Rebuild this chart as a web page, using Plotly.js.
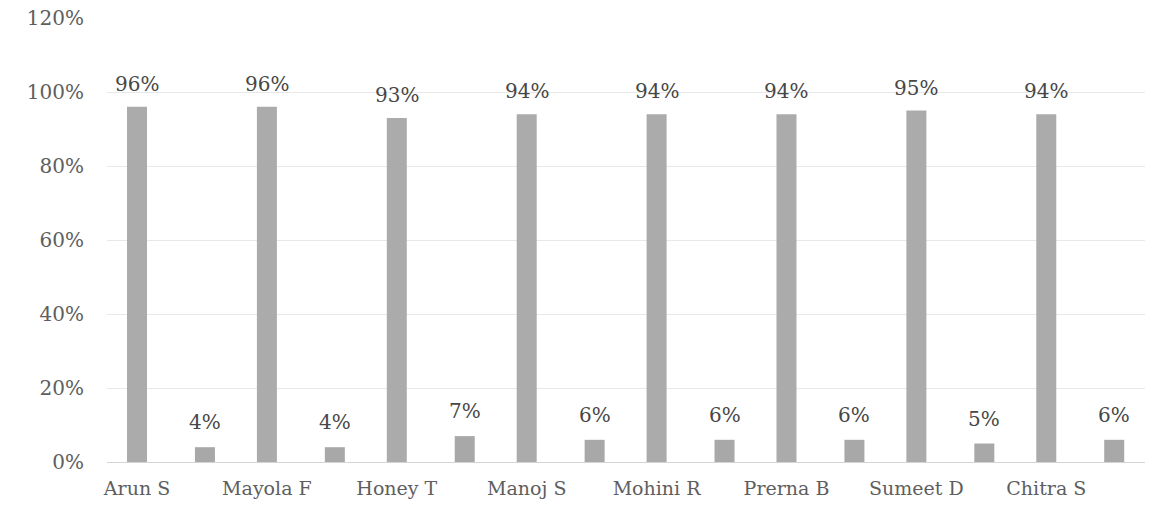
<!DOCTYPE html>
<html>
<head>
<meta charset="utf-8">
<script src="https://cdn.plot.ly/plotly-3.0.1.min.js"></script>
<style>html,body{margin:0;padding:0;background:#fff;}#chart{width:1166px;height:524px;}</style>
</head>
<body>
<div id="chart"></div>
<script>
const categories = ["Arun S", "Mayola F", "Honey T", "Manoj S", "Mohini R", "Prerna B", "Sumeet D", "Chitra S"];
const seriesA = [96, 96, 93, 94, 94, 94, 95, 94];
const seriesB = [4, 4, 7, 6, 6, 6, 5, 6];
const yTickVals = [0, 20, 40, 60, 80, 100, 120];
const yTickText = ["0%", "20%", "40%", "60%", "80%", "100%", "120%"];

const font = "DejaVu Serif, Liberation Serif, serif";
const textColor = "#5e5e5e";

const traceA = {
  type: "bar", x: categories, y: seriesA,
  width: 0.154, offset: -0.077,
  marker: {color: "#ababab"}, hoverinfo: "skip"
};
const traceB = {
  type: "bar", x: categories, y: seriesB,
  width: 0.154, offset: 0.446,
  marker: {color: "#a8a8a8"}, hoverinfo: "skip"
};

const annotations = [];
categories.forEach((c, i) => {
  annotations.push({x: c, y: seriesA[i], text: seriesA[i] + "%", showarrow: false,
    yanchor: "bottom", yshift: 9, font: {family: font, size: 20, color: "#474747"}});
  annotations.push({x: c, y: seriesB[i], text: seriesB[i] + "%", showarrow: false,
    xshift: 68, yanchor: "bottom", yshift: 11, font: {family: font, size: 20, color: "#474747"}});
});

const layout = {
  width: 1166, height: 524,
  margin: {l: 107, r: 21, t: 18, b: 62},
  paper_bgcolor: "#fff", plot_bgcolor: "#fff",
  showlegend: false,
  barmode: "overlay",
  font: {family: font, color: textColor, size: 19},
  xaxis: {
    type: "category", range: [-0.231, 7.76],
    showgrid: false, zeroline: false, showline: false,
    ticks: "", ticklabelstandoff: 13,
    tickfont: {family: font, size: 19, color: textColor}
  },
  yaxis: {
    range: [0, 120], tickvals: yTickVals, ticktext: yTickText,
    showgrid: true, gridcolor: "#e8e8e8", gridwidth: 1,
    zeroline: true, zerolinecolor: "#d4d4d4", zerolinewidth: 1,
    showline: false, ticks: "", ticklabelstandoff: 22,
    tickfont: {family: font, size: 20, color: textColor}
  },
  annotations: annotations
};

Plotly.newPlot("chart", [traceA, traceB], layout, {displayModeBar: false, staticPlot: true});
</script>
</body>
</html>
